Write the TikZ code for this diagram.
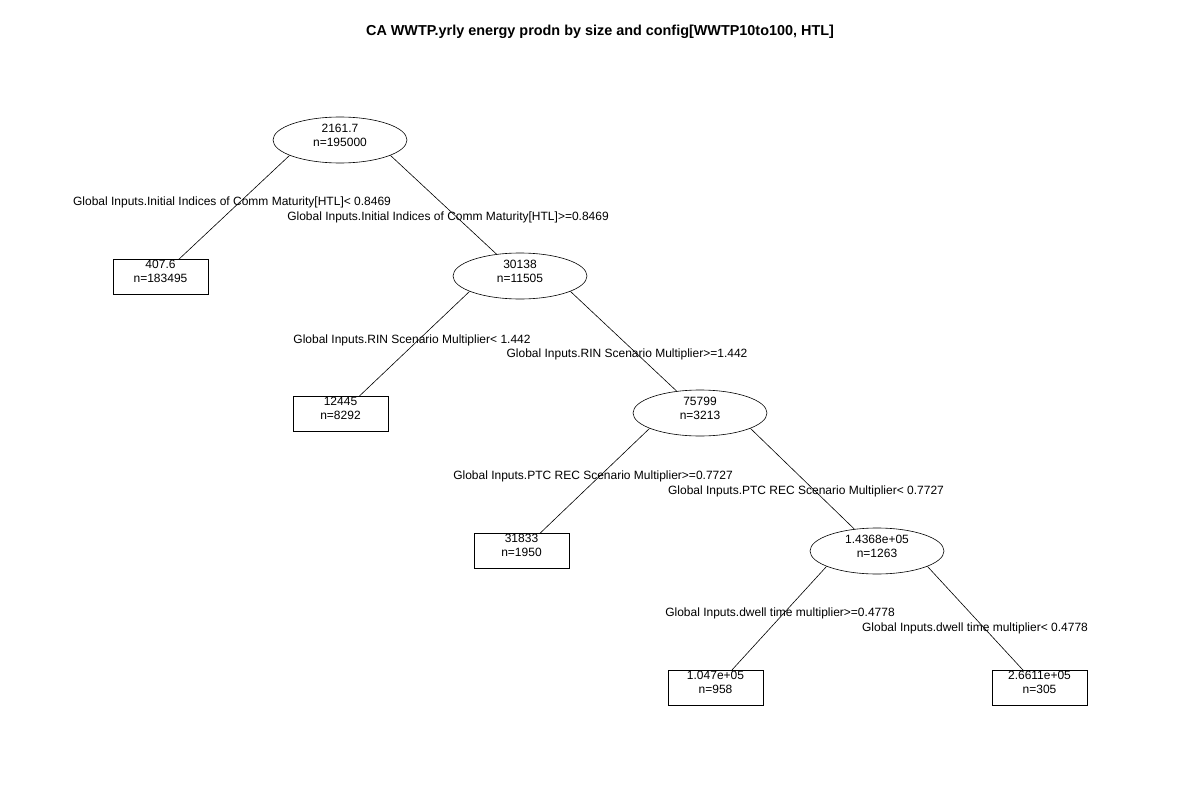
\documentclass[tikz,border=0pt]{standalone}
\usepackage{fontspec}
\setmainfont{Liberation Sans}
\usetikzlibrary{shapes.geometric,backgrounds}
\begin{document}
\begin{tikzpicture}[x=1pt,y=-1pt,
  every node/.style={font=\fontsize{12}{14}\selectfont, inner sep=0pt},
  split/.style={ellipse, draw, fill=white, line width=0.6pt, minimum width=134pt, minimum height=46pt},
  leaf/.style={rectangle, draw, fill=white, line width=0.6pt, minimum width=95pt, minimum height=35pt},
  val/.style={align=center},
  cond/.style={anchor=center},
  branch/.style={line width=0.6pt}]
\useasboundingbox (0,0) rectangle (1200,800);
\node[font=\bfseries\fontsize{14.4}{16}\selectfont] (title) at (600,31.5) {CA WWTP.yrly energy prodn by size and config[WWTP10to100, HTL]};
% split nodes
\node[split] (root) at (340,140) {};
\node[split] (n2) at (520,276) {};
\node[split] (n3) at (700,413) {};
\node[split] (n4) at (877,551) {};
% leaves
\node[leaf] (l1) at (160.5,276.5) {};
\node[leaf] (l2) at (340.5,414) {};
\node[leaf] (l3) at (521.5,551) {};
\node[leaf] (l4) at (715.5,688) {};
\node[leaf] (l5) at (1039.5,688) {};
% values
\node[val] (root-t) at (340,135) {2161.7\\n=195000};
\node[val] (n2-t) at (520,271) {30138\\n=11505};
\node[val] (n3-t) at (700,408) {75799\\n=3213};
\node[val] (n4-t) at (877,546) {1.4368e+05\\n=1263};
\node[val] (l1-t) at (160.5,271) {407.6\\n=183495};
\node[val] (l2-t) at (340.5,408.5) {12445\\n=8292};
\node[val] (l3-t) at (521.5,545.5) {31833\\n=1950};
\node[val] (l4-t) at (715.5,682.5) {1.047e+05\\n=958};
\node[val] (l5-t) at (1039.5,682.5) {2.6611e+05\\n=305};
% conditions
\node[cond] (c1) at (232,202) {Global Inputs.Initial Indices of Comm Maturity[HTL]< 0.8469};
\node[cond] (c2) at (448,217) {Global Inputs.Initial Indices of Comm Maturity[HTL]>=0.8469};
\node[cond] (c3) at (412,340) {Global Inputs.RIN Scenario Multiplier< 1.442};
\node[cond] (c4) at (627,354) {Global Inputs.RIN Scenario Multiplier>=1.442};
\node[cond] (c5) at (593,476) {Global Inputs.PTC REC Scenario Multiplier>=0.7727};
\node[cond] (c6) at (806,491) {Global Inputs.PTC REC Scenario Multiplier< 0.7727};
\node[cond] (c7) at (780,613) {Global Inputs.dwell time multiplier>=0.4778};
\node[cond] (c8) at (975,628) {Global Inputs.dwell time multiplier< 0.4778};
\begin{pgfonlayer}{background}
\draw[branch] (root.197) -- (l1.center);
\draw[branch] (root.343) -- (n2.center);
\draw[branch] (n2.197) -- (l2.center);
\draw[branch] (n2.343) -- (n3.center);
\draw[branch] (n3.197) -- (l3.center);
\draw[branch] (n3.343) -- (n4.center);
\draw[branch] (n4.197) -- (l4.center);
\draw[branch] (n4.343) -- (l5.center);
\end{pgfonlayer}
\end{tikzpicture}
\end{document}
